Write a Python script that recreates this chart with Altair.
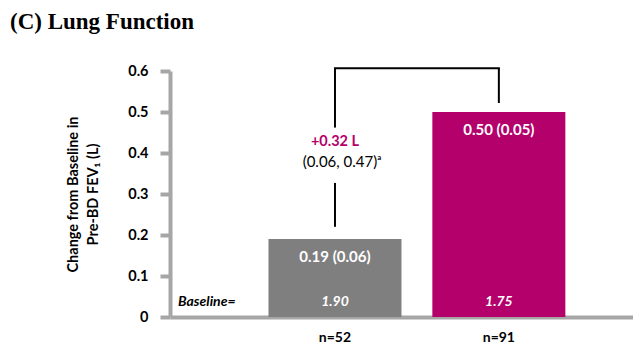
import altair as alt
import pandas as pd

# ---- data ----
groups = ["Placebo", "Treatment"]
positions = [1, 2]
changes = [0.19, 0.50]
bar_labels = ["0.19 (0.06)", "0.50 (0.05)"]
baselines = ["1.90", "1.75"]
n_labels = ["n=52", "n=91"]
colors = ["#7f7f7f", "#b4006b"]
y_ticks = [0, 0.1, 0.2, 0.3, 0.4, 0.5, 0.6]

bracket_top = 0.607
bracket_left_seg = [(0.607, 0.462), (0.327, 0.22)]
bracket_right_end = 0.522
diff_label = "+0.32 L"
ci_label = "(0.06, 0.47)\u1d43"
diff_label_y = 0.427
ci_label_y = 0.378

FONT = "Lato"
W, H = 463, 246

bars_df = pd.DataFrame({"group": groups, "pos": positions, "change": changes,
                        "label": bar_labels, "base": baselines, "n": n_labels,
                        "color": colors})

xs = alt.Scale(domain=[0.0239, 2.788], nice=False, zero=False)
ys = alt.Scale(domain=[0, 0.6], nice=False, zero=True)

base = alt.Chart(bars_df)

bars = base.mark_bar(size=133, clip=False).encode(
    x=alt.X("pos:Q", scale=xs, axis=alt.Axis(labels=False, ticks=False, grid=False,
                                             title=None, domainColor="#a6a6a6",
                                             domainWidth=4)),
    y=alt.Y("change:Q", scale=ys, axis=alt.Axis(
        values=y_ticks, grid=False, labelExpr="datum.value == 0 ? '0' : format(datum.value, '.1f')",
        labelFont=FONT, labelFontSize=14.5, labelFontWeight="bold", labelColor="black",
        labelPadding=12, tickColor="#a6a6a6", tickWidth=4, tickSize=10,
        domainColor="#a6a6a6", domainWidth=4,
        title=["Change from Baseline in", "Pre-BD FEV\u2081 (L)"],
        titleFont=FONT, titleFontSize=14.5, titleFontWeight="bold", titleColor="black",
        titleAngle=-90, titleX=-97, titleY=123, titleAlign="center",
        titleBaseline="middle", titleLineHeight=20)),
    color=alt.Color("color:N", scale=None),
)

val_text = base.mark_text(font=FONT, fontSize=15, fontWeight="bold", color="white",
                          baseline="middle", dy=18).encode(
    x=alt.X("pos:Q", scale=xs), y=alt.Y("change:Q", scale=ys), text="label:N")

base_text = base.mark_text(font=FONT, fontSize=14, fontWeight="bold", fontStyle="italic",
                           color="white", baseline="middle").encode(
    x=alt.X("pos:Q", scale=xs), y=alt.value(H - 15), text="base:N")

n_text = base.mark_text(font=FONT, fontSize=14, fontWeight="bold", color="black",
                        baseline="middle").encode(
    x=alt.X("pos:Q", scale=xs), y=alt.value(H + 21), text="n:N")

baseline_lbl = alt.Chart(pd.DataFrame({"t": ["Baseline="]})).mark_text(
    font=FONT, fontSize=14, fontWeight="bold", fontStyle="italic", color="black",
    align="left", baseline="middle").encode(x=alt.value(8), y=alt.value(H - 15), text="t:N")

# bracket
horiz_df = pd.DataFrame({"x1": [positions[0]], "x2": [positions[1]], "y": [bracket_top]})
horiz = alt.Chart(horiz_df).mark_rule(color="black", strokeWidth=2, strokeCap="square", clip=False).encode(
    x=alt.X("x1:Q", scale=xs), x2="x2:Q", y=alt.Y("y:Q", scale=ys))

vert_df = pd.DataFrame({
    "x": [positions[0], positions[0], positions[1]],
    "y1": [bracket_left_seg[0][0], bracket_left_seg[1][0], bracket_top],
    "y2": [bracket_left_seg[0][1], bracket_left_seg[1][1], bracket_right_end],
})
vert = alt.Chart(vert_df).mark_rule(color="black", strokeWidth=2, clip=False).encode(
    x=alt.X("x:Q", scale=xs), y=alt.Y("y1:Q", scale=ys), y2="y2:Q")

diff_df = pd.DataFrame({"x": [positions[0]], "y": [diff_label_y], "t": [diff_label]})
diff_text = alt.Chart(diff_df).mark_text(font=FONT, fontSize=14.5, fontWeight="bold",
                                         color="#b4006b", baseline="middle").encode(
    x=alt.X("x:Q", scale=xs), y=alt.Y("y:Q", scale=ys), text="t:N")

ci_df = pd.DataFrame({"x": [positions[0]], "y": [ci_label_y], "t": [ci_label]})
ci_text = alt.Chart(ci_df).mark_text(font=FONT, fontSize=15, color="black",
                                     baseline="middle", dx=7).encode(
    x=alt.X("x:Q", scale=xs), y=alt.Y("y:Q", scale=ys), text="t:N")

title = alt.Chart(pd.DataFrame({"t": ["(C) Lung Function"]})).mark_text(
    font="Liberation Serif", fontSize=23, fontWeight="bold", color="black",
    align="left", baseline="middle").encode(x=alt.value(-160), y=alt.value(-49), text="t:N")

chart = alt.layer(bars, val_text, base_text, n_text, baseline_lbl, horiz, vert,
                  diff_text, ci_text, title).properties(
    width=W, height=H,
    autosize=alt.AutoSizeParams(type="none"),
    padding={"left": 162, "top": 63, "right": 0, "bottom": 28},
).configure_view(stroke=None)

chart.save("out.html", embed_options={"renderer": "svg", "actions": False})
